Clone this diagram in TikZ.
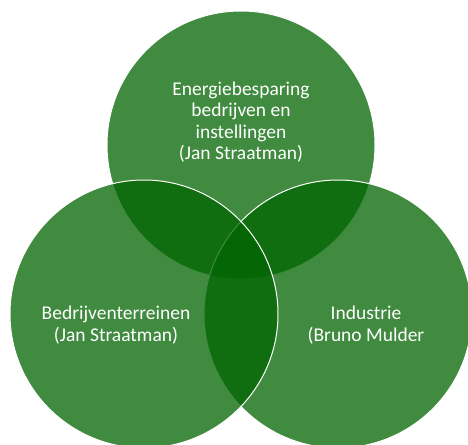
\documentclass[tikz,border=0pt]{standalone}
\usepackage{fontspec}
\setmainfont{Carlito}
\definecolor{venngreen}{RGB}{0,100,0}

\begin{document}
\begin{tikzpicture}[x=1pt, y=-1pt,
  venn/.style = {shape=circle, minimum size=268pt, inner sep=0pt,
    draw=white, line width=1pt, fill=venngreen, fill opacity=0.75},
  label/.style = {align=center, text=white, inner sep=0pt,
    font=\fontsize{19.5}{21.5}\selectfont}]
  \useasboundingbox (0,0) rectangle (468,444);
  \clip (0,0) rectangle (468,444);
  \node[venn] (energie) at (241,145) {};
  \node[venn] (industrie) at (338,314) {};
  \node[venn] (terrein) at (144,314) {};
  \node[label] (energietekst) at ([yshift=23pt]energie.center)
    {Energiebesparing\\bedrijven en\\instellingen\\(Jan Straatman)};
  \node[label] (terreintekst) at ([xshift=-28pt, yshift=-11pt]terrein.center)
    {Bedrijventerreinen\\(Jan Straatman)};
  \node[label] (industrietekst) at ([xshift=28pt, yshift=-11pt]industrie.center)
    {Industrie\\(Bruno Mulder};
\end{tikzpicture}
\end{document}
